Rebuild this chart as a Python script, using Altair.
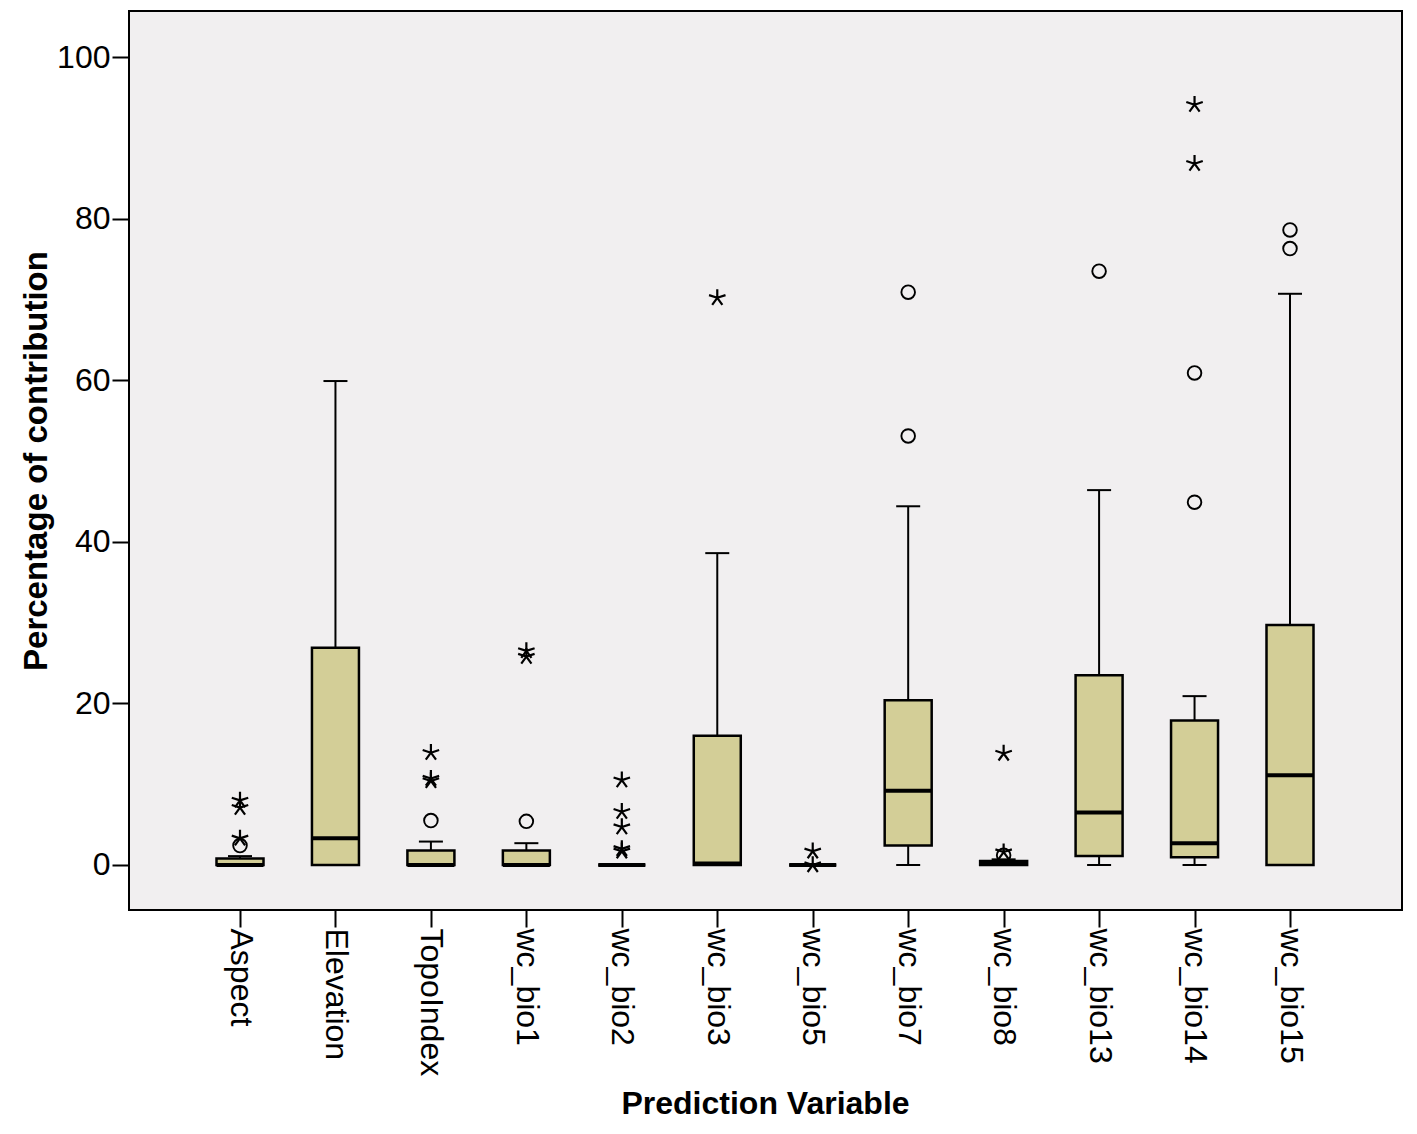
import altair as alt
import pandas as pd

cats = ["Aspect", "Elevation", "TopoIndex", "wc_bio1", "wc_bio2", "wc_bio3",
        "wc_bio5", "wc_bio7", "wc_bio8", "wc_bio13", "wc_bio14", "wc_bio15"]
lower = [0, 0, 0, 0, 0, 0, 0, 0, 0, 0, 0, 0]
q1 = [0, 0, 0, 0, 0, 0, 0, 2.4, 0, 1.1, 0.95, 0]
median = [0, 3.3, 0, 0, 0, 0.2, 0, 9.2, 0.2, 6.5, 2.7, 11.1]
q3 = [0.8, 26.9, 1.8, 1.8, 0, 16.0, 0, 20.4, 0.5, 23.5, 17.9, 29.7]
upper = [1.1, 59.9, 2.9, 2.7, 0, 38.6, 0, 44.4, 0.7, 46.4, 20.9, 70.7]

circle_cat = ["Aspect", "TopoIndex", "wc_bio1", "wc_bio7", "wc_bio7", "wc_bio8",
              "wc_bio13", "wc_bio14", "wc_bio14", "wc_bio15", "wc_bio15"]
circle_val = [2.4, 5.5, 5.4, 53.1, 70.9, 1.2, 73.5, 44.9, 60.9, 76.3, 78.6]

star_cat = ["Aspect", "Aspect", "Aspect", "TopoIndex", "TopoIndex", "TopoIndex",
            "wc_bio1", "wc_bio1", "wc_bio2", "wc_bio2", "wc_bio2", "wc_bio2", "wc_bio2",
            "wc_bio3", "wc_bio5", "wc_bio5", "wc_bio8", "wc_bio8", "wc_bio14", "wc_bio14"]
star_val = [3.3, 7.1, 8.0, 10.4, 10.7, 13.9,
            25.8, 26.5, 1.7, 2.0, 4.7, 6.6, 10.5,
            70.2, 0.0, 1.7, 1.6, 13.8, 86.8, 94.1]

y_ticks = [0, 20, 40, 60, 80, 100]

boxes = pd.DataFrame({"cat": cats, "lower": lower, "q1": q1, "median": median,
                      "q3": q3, "upper": upper})
circles = pd.DataFrame({"cat": circle_cat, "val": circle_val})
stars = pd.DataFrame({"cat": star_cat, "val": star_val})

FONT = "Liberation Sans"
BOX_FILL = "#D3CE97"
STAR = "M0,0L0,-1M0,0L0.951,-0.309M0,0L-0.951,-0.309M0,0L0.588,0.809M0,0L-0.588,0.809"

x_enc = alt.X(
    "cat:N", sort=cats,
    scale=alt.Scale(type="point", range=[111, 1161], padding=0),
    axis=alt.Axis(title="Prediction Variable", labelAngle=90, labelFontSize=32,
                  labelFont=FONT, labelColor="black", tickSize=17, tickWidth=2,
                  tickColor="black", labelPadding=1, domain=False,
                  titleFont=FONT, titleFontSize=32, titleFontWeight="bold",
                  titleColor="black", titlePadding=13, labelLimit=400),
)
y_scale = alt.Scale(domain=[-5.57, 105.7], nice=False, zero=False)
y_axis = alt.Axis(title="Percentage of contribution", values=y_ticks, labelFontSize=32,
                  labelFont=FONT, labelColor="black", tickSize=17, tickWidth=2,
                  tickColor="black", labelPadding=2, domain=False, grid=False,
                  titleFont=FONT, titleFontSize=33, titleFontWeight="bold",
                  titleColor="black", titlePadding=3)

base = alt.Chart(boxes)

whisk_up = base.mark_rule(color="black", strokeWidth=2).encode(
    x=x_enc, y=alt.Y("q3:Q", scale=y_scale, axis=y_axis), y2="upper:Q")
whisk_lo = base.mark_rule(color="black", strokeWidth=2).encode(
    x=x_enc, y=alt.Y("lower:Q", scale=y_scale), y2="q1:Q")
box = base.mark_bar(size=47, fill=BOX_FILL, stroke="black", strokeWidth=2.5).encode(
    x=x_enc, y=alt.Y("q1:Q", scale=y_scale), y2="q3:Q")
med = base.mark_tick(size=47, thickness=4, color="black", opacity=1).encode(
    x=x_enc, y=alt.Y("median:Q", scale=y_scale))
cap_up = base.mark_tick(size=24, thickness=2, color="black", opacity=1).encode(
    x=x_enc, y=alt.Y("upper:Q", scale=y_scale))
cap_lo = base.mark_tick(size=24, thickness=2, color="black", opacity=1).encode(
    x=x_enc, y=alt.Y("lower:Q", scale=y_scale))
circ = alt.Chart(circles).mark_point(shape="circle", size=185, filled=False,
                                     stroke="black", strokeWidth=1.9, opacity=1).encode(
    x=x_enc, y=alt.Y("val:Q", scale=y_scale))
star = alt.Chart(stars).mark_point(shape=STAR, size=300, filled=False,
                                   stroke="black", strokeWidth=2.2, opacity=1).encode(
    x=x_enc, y=alt.Y("val:Q", scale=y_scale))

chart = alt.layer(whisk_up, whisk_lo, box, med, cap_up, cap_lo, circ, star).properties(
    width=1273, height=899,
    autosize=alt.AutoSizeParams(type="none"),
    padding={"left": 121, "top": 3, "right": 5, "bottom": 215},
    background="white",
).configure_view(stroke="black", strokeWidth=2, fill="#F1EFF0")

chart.save("out.html", embed_options={"renderer": "svg", "actions": False})
